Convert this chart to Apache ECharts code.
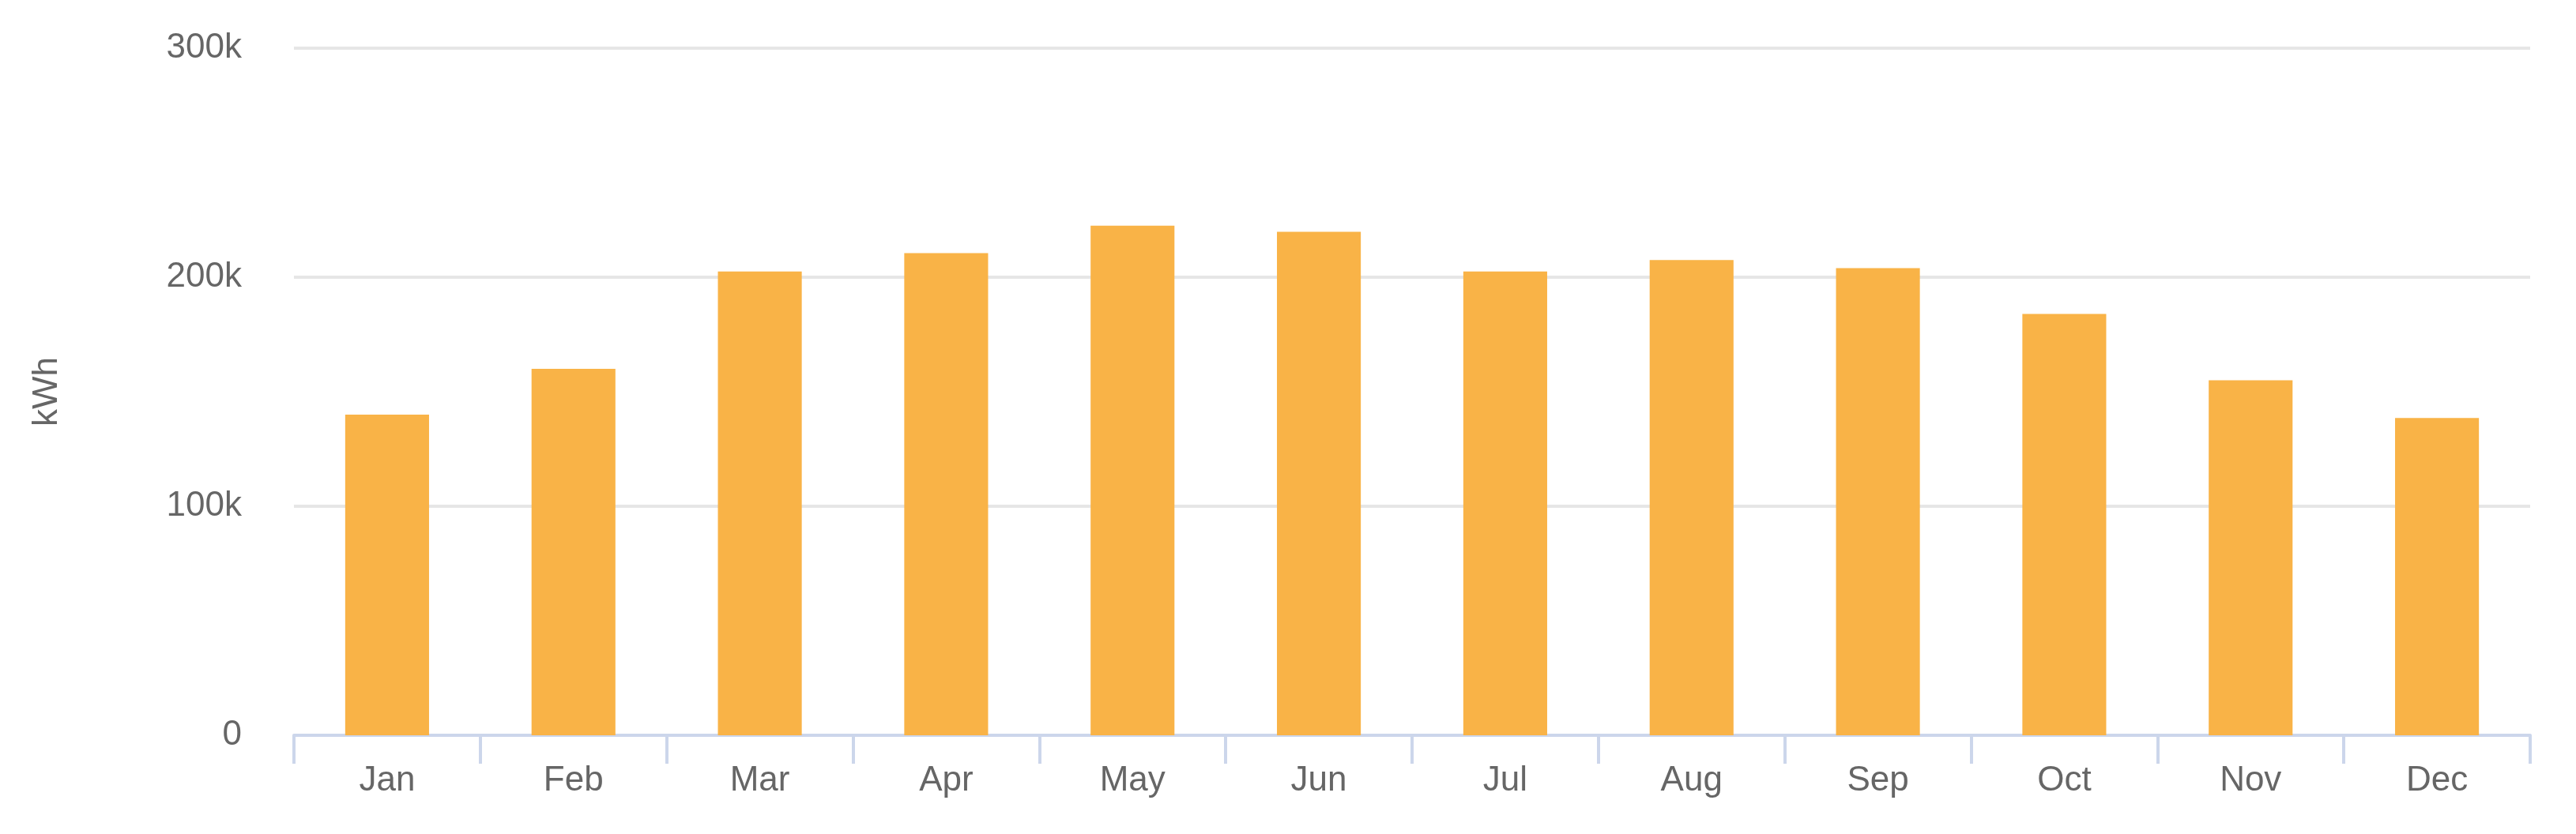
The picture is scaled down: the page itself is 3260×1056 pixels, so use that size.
<!DOCTYPE html>
<html><head><meta charset="utf-8">
<script src="https://cdn.jsdelivr.net/npm/echarts@6/dist/echarts.min.js"></script>
<style>html,body{margin:0;padding:0;background:#fff}#c{width:3260px;height:1056px}</style>
</head><body><div id="c"></div>
<script>
const months = ['Jan','Feb','Mar','Apr','May','Jun','Jul','Aug','Sep','Oct','Nov','Dec'];
const energy = [140000,160000,202500,210500,222500,219800,202500,207500,204000,184000,155000,138500];
const yTicks = [0,100000,200000,300000];
const chart = echarts.init(document.getElementById('c'));
chart.setOption({
  animation:false,
  grid:{left:372,right:58,top:61,bottom:125},
  xAxis:{type:'category',data:months,
    axisLine:{lineStyle:{color:'#ccd6eb',width:4}},
    axisTick:{show:true,length:36,lineStyle:{color:'#ccd6eb',width:4}},
    axisLabel:{color:'#666',fontSize:44,fontFamily:'Liberation Sans, Arial',margin:36}},
  yAxis:{type:'value',min:yTicks[0],max:yTicks[yTicks.length-1],interval:100000,
    name:'kWh',nameLocation:'middle',nameGap:290,nameRotate:90,
    nameTextStyle:{color:'#666',fontSize:44,fontFamily:'Liberation Sans, Arial'},
    axisLabel:{color:'#666',fontSize:44,fontFamily:'Liberation Sans, Arial',margin:66,
      formatter:v=>v===0?'0':(v/1000)+'k'},
    splitLine:{lineStyle:{color:'#e6e6e6',width:4}}},
  series:[{type:'bar',data:energy,barWidth:'45%',
    itemStyle:{color:'#f9b347'}}]
});
</script></body></html>
